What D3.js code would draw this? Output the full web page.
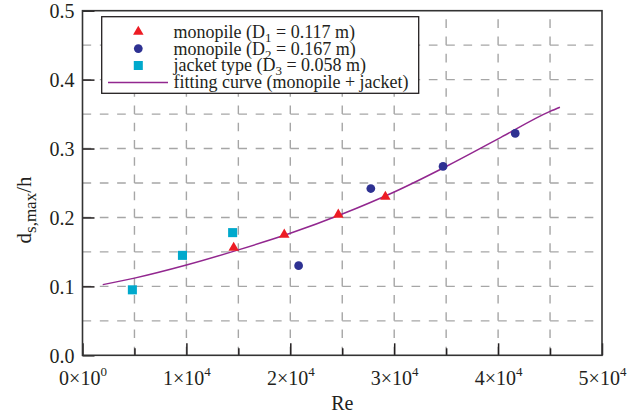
<!DOCTYPE html>
<html>
<head>
<meta charset="utf-8">
<script src="https://cdn.jsdelivr.net/npm/d3@7"></script>
<style>
  html, body { margin: 0; padding: 0; background: #fff; }
  svg { display: block; }
</style>
</head>
<body>
<svg id="chart" width="643" height="416"></svg>
<script>
// Scour depth vs Reynolds number
const triRe  = [14550, 19420, 24620, 29150];
const triDs  = [0.156, 0.175, 0.204, 0.230];
const circRe = [20800, 27750, 34700, 41650];
const circDs = [0.130, 0.242, 0.274, 0.322];
const sqRe   = [4800, 9620, 14450];
const sqDs   = [0.095, 0.145, 0.178];
const fitRe  = [1950, 5000, 10000, 15000, 20000, 25000, 30000, 35000, 40000, 45000, 45950];
const fitDs  = [0.1025, 0.112, 0.131, 0.153, 0.177, 0.205, 0.237, 0.274, 0.314, 0.354, 0.360];

const xTicks = [0, 10000, 20000, 30000, 40000, 50000];
const xTickMant = ["0", "1", "2", "3", "4", "5"];
const xTickExp  = ["0", "4", "4", "4", "4", "4"];
const xMinor = [5000, 15000, 25000, 35000, 45000];
const yTicks = [0, 0.1, 0.2, 0.3, 0.4, 0.5];
const yTickLabels = ["0.0", "0.1", "0.2", "0.3", "0.4", "0.5"];
const xGrid = [5000, 10000, 15000, 20000, 25000, 30000, 35000, 40000, 45000];
const yGrid = [0.05, 0.1, 0.15, 0.2, 0.25, 0.3, 0.35, 0.4, 0.45];

const legendItems = [
  { type: "tri",  label: ["monopile (D", "1", " = 0.117 m)"] },
  { type: "circ", label: ["monopile (D", "2", " = 0.167 m)"] },
  { type: "sq",   label: ["jacket type (D", "3", " = 0.058 m)"] },
  { type: "line", label: ["fitting curve (monopile + jacket)", "", ""] }
];

const colors = { tri: "#ed1c24", circ: "#2e3192", sq: "#00a9cc", line: "#92278f" };
const FONT = "'Liberation Serif', 'Times New Roman', Times, serif";
const INK = "#231f20";

const L = 82.5, R = 602, T = 10.7, B = 355.3;
const svg = d3.select("#chart");
const x = d3.scaleLinear().domain([0, 50000]).range([L, R]);
const y = d3.scaleLinear().domain([0, 0.5]).range([B, T]);

// dashed grid, dash period aligned to grid spacing
const hStep = x(5000) - x(0);
const vStep = y(0) - y(0.05);
const grid = svg.append("g").attr("stroke", "#a6a6a6").attr("stroke-width", 1.4).attr("fill", "none");
grid.selectAll("line.v").data(xGrid).join("line")
  .attr("x1", d => x(d)).attr("x2", d => x(d))
  .attr("y1", B).attr("y2", T)
  .attr("stroke-dasharray", `${vStep / 4} ${vStep / 4}`);
grid.selectAll("line.h").data(yGrid).join("line")
  .attr("x1", L).attr("x2", R)
  .attr("y1", d => y(d)).attr("y2", d => y(d))
  .attr("stroke-dasharray", `${hStep / 6} ${hStep / 6}`);

// x axis: major ticks with a×10^b labels, minor ticks between
const xAxis = svg.append("g").attr("transform", `translate(0,${B})`)
  .call(d3.axisBottom(x).tickValues(xTicks).tickSize(-12).tickFormat(""));
xAxis.attr("font-family", FONT);
xAxis.select(".domain").remove();
xAxis.selectAll(".tick line").attr("stroke", INK).attr("stroke-width", 1.5);
xAxis.selectAll(".tick").each(function(d, i) {
  const t = d3.select(this).append("text")
    .attr("y", 30).attr("text-anchor", "middle")
    .attr("font-size", 20).attr("fill", INK);
  t.append("tspan").text(xTickMant[i] + "\u00d710");
  t.append("tspan").attr("dy", -9).attr("font-size", 13).text(xTickExp[i]);
});
const xMinorAxis = svg.append("g").attr("transform", `translate(0,${B})`)
  .call(d3.axisBottom(x).tickValues(xMinor).tickSize(-7).tickFormat(""));
xMinorAxis.select(".domain").remove();
xMinorAxis.selectAll(".tick line").attr("stroke", INK).attr("stroke-width", 1.5);

// y axis
const yAxis = svg.append("g").attr("transform", `translate(${L},0)`)
  .call(d3.axisLeft(y).tickValues(yTicks).tickSize(-12).tickFormat((d, i) => yTickLabels[i]));
yAxis.attr("font-family", FONT).attr("font-size", 20);
yAxis.select(".domain").remove();
yAxis.selectAll(".tick line").attr("stroke", INK).attr("stroke-width", 1.5);
yAxis.selectAll(".tick text")
  .attr("x", -8).attr("dy", "0.35em")
  .attr("fill", INK);

// frame
svg.append("rect").attr("x", L).attr("y", T).attr("width", R - L).attr("height", B - T)
  .attr("fill", "none").attr("stroke", "#333").attr("stroke-width", 1.6);

// fitting curve
const line = d3.line().x((d, i) => x(fitRe[i])).y(d => y(d)).curve(d3.curveMonotoneX);
svg.append("path").datum(fitDs).attr("d", line)
  .attr("fill", "none").attr("stroke", colors.line).attr("stroke-width", 1.5);

// markers
const sym = {
  tri:  d3.symbol().type(d3.symbolTriangle).size(48),
  circ: d3.symbol().type(d3.symbolCircle).size(60),
  sq:   d3.symbol().type(d3.symbolSquare).size(82)
};
svg.append("g").selectAll("path").data(sqDs).join("path")
  .attr("transform", (d, i) => `translate(${x(sqRe[i])},${y(d)})`)
  .attr("d", sym.sq()).attr("fill", colors.sq);
svg.append("g").selectAll("path").data(circDs).join("path")
  .attr("transform", (d, i) => `translate(${x(circRe[i])},${y(d)})`)
  .attr("d", sym.circ()).attr("fill", colors.circ);
svg.append("g").selectAll("path").data(triDs).join("path")
  .attr("transform", (d, i) => `translate(${x(triRe[i])},${y(d)})`)
  .attr("d", sym.tri()).attr("fill", colors.tri);

// legend
const lg = svg.append("g").attr("font-family", FONT);
lg.append("rect").attr("x", 101.7).attr("y", 16.7).attr("width", 317).attr("height", 76.6)
  .attr("fill", "#fff").attr("stroke", INK).attr("stroke-width", 1.3);
const rowY = [31.8, 48.6, 65.5, 82.5];
legendItems.forEach((it, i) => {
  const cy = rowY[i];
  if (it.type === "line") {
    lg.append("line").attr("x1", 108).attr("x2", 168).attr("y1", cy).attr("y2", cy)
      .attr("stroke", colors.line).attr("stroke-width", 1.5);
  } else {
    lg.append("path").attr("transform", `translate(138.3,${cy})`)
      .attr("d", sym[it.type]()).attr("fill", colors[it.type]);
  }
  const t = lg.append("text").attr("x", 173.5).attr("y", cy).attr("dy", "0.33em")
    .attr("font-size", 18).attr("fill", INK);
  t.append("tspan").text(it.label[0]);
  if (it.label[1]) {
    t.append("tspan").attr("dy", 4).attr("font-size", 13).text(it.label[1]);
    t.append("tspan").attr("dy", -4).text(it.label[2]);
  }
});

// axis titles
svg.append("text").attr("x", x(25000)).attr("y", 410).attr("text-anchor", "middle")
  .attr("font-family", FONT).attr("font-size", 20).attr("fill", INK).text("Re");
const yt = svg.append("text").attr("transform", "translate(31,210) rotate(-90)")
  .attr("text-anchor", "middle").attr("font-family", FONT).attr("font-size", 21).attr("fill", INK);
yt.append("tspan").text("d");
yt.append("tspan").attr("dy", 5).attr("font-size", 17).text("s,max");
yt.append("tspan").attr("dy", -5).text("/h");
</script>
</body>
</html>
